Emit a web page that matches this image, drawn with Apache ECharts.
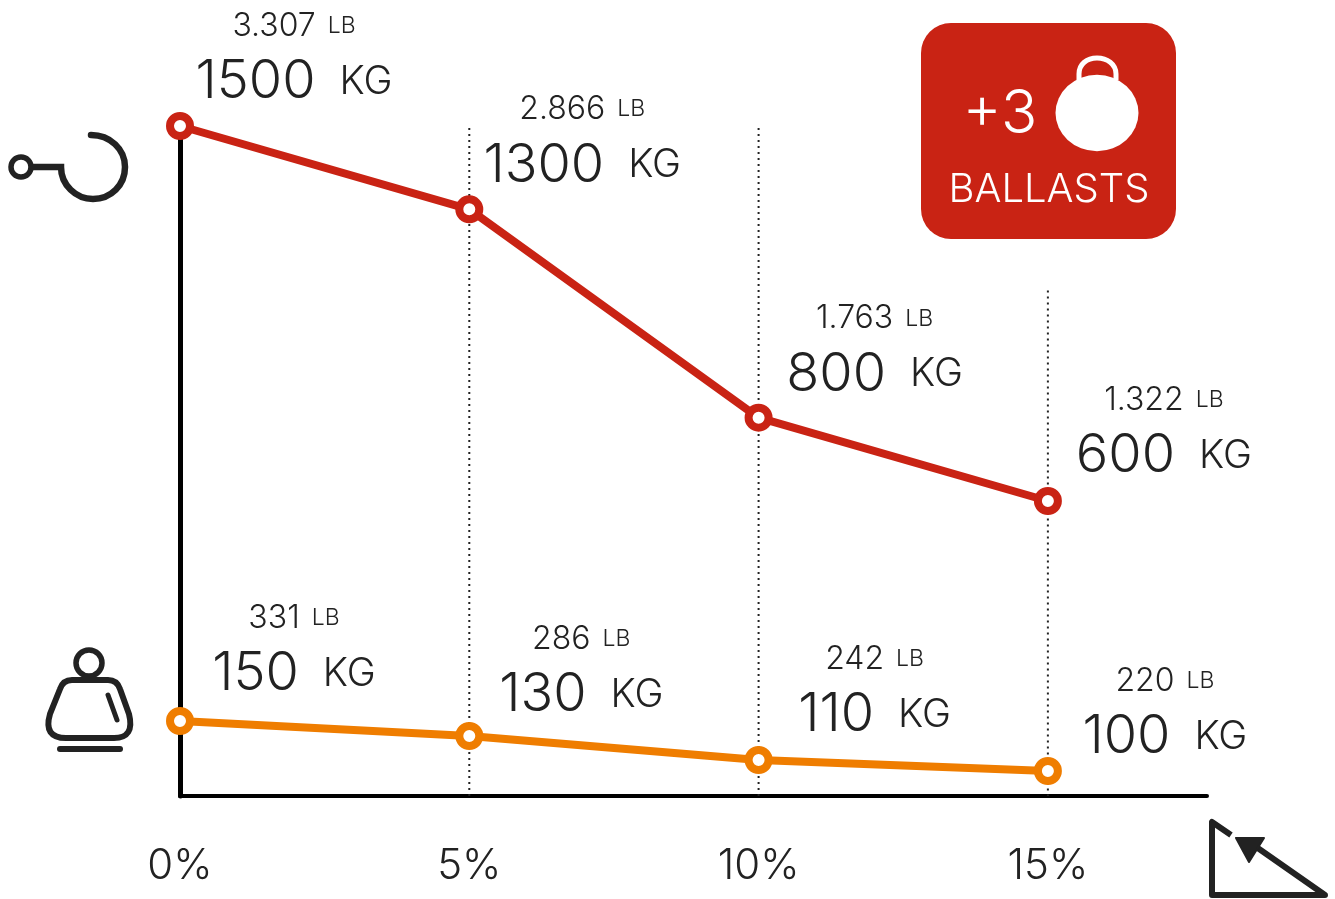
<!DOCTYPE html>
<html><head><meta charset="utf-8">
<style>html,body{margin:0;padding:0;background:#fff}#c{width:1335px;height:899px}</style>
<script src="https://cdn.jsdelivr.net/npm/echarts@6/dist/echarts.min.js"></script>
</head><body><div id="c"></div>
<script>
const grades = [0, 5, 10, 15];
const hookKg = [1500, 1300, 800, 600];
const hookLb = ['3.307', '2.866', '1.763', '1.322'];
const seatKgText = ['150', '130', '110', '100'];
const seatLb = ['331', '286', '242', '220'];
// heights of the orange line (kg on its own axis)
const seatHeight = [150, 135, 111, 100];
const dropTop = [null, 1495, 1495, 1105];
const gradeTicks = ['0%', '5%', '10%', '15%'];

const ink = '#222222', red = '#c92314', orange = '#ef7d00';
const FONT = 'Inter';
const hookShift = [[114, -2], [113, -2], [116, -1], [116, -3]];
const seatShift = [[114, -5], [112, 1], [116, -3], [117, 8]];

const rich = {
  lb: {fontFamily: FONT, fontWeight: 300, fontSize: 32, color: ink, lineHeight: 56},
  lu: {fontFamily: FONT, fontWeight: 300, fontSize: 23, color: ink, padding: [0, 0, 0, 12], lineHeight: 56},
  kg: {fontFamily: FONT, fontWeight: 300, fontSize: 54, color: ink, lineHeight: 56},
  ku: {fontFamily: FONT, fontWeight: 300, fontSize: 39, color: ink, padding: [0, 0, 0, 24], lineHeight: 56}
};
const lab = (lb, kg, shift) => ({
  show: true, position: 'top', distance: 0, offset: shift,
  formatter: `{lb|${lb}}{lu|LB}\n{kg|${kg}}{ku|KG}`, rich, align: 'center'
});
const ringSeries = (data, color, yAxisIndex) => ({
  type: 'line', data, yAxisIndex, clip: false, z: 5, symbol: 'circle', symbolSize: 20, showSymbol: true,
  lineStyle: {color, width: 8}, itemStyle: {color: '#fff', borderColor: color, borderWidth: 8}
});
const drops = grades.map((g, i) => dropTop[i] == null ? null : ({
  type: 'line', silent: true, symbol: 'none', z: 1, clip: false,
  data: [[g, dropTop[i]], [g, -108]],
  lineStyle: {color: ink, width: 2, type: [2, 4]}
})).filter(Boolean);

const icon = (name, d) => echarts.graphic.registerShape(name, echarts.graphic.extendPath(d, {}));
icon('hookPath', 'M32 167 H61 C61 185 76 199 93 199 C111 199 125 185 125 167 C125 149 110 135 91 135');
icon('bodyPath', 'M72 680 H108 Q117 680 120 689 L129 714 Q135 738 114 738 H66 Q43 738 50 714 L60 689 Q63 680 72 680 Z');
icon('handlePath', 'M1079 80 V74 C1079 64 1087 58 1097 58 C1107 58 1116 64 1116 74 V80');
icon('slopePath', 'M1231 835 L1212 822 V895 H1325 L1252 844');

const chart = echarts.init(document.getElementById('c'), null, {renderer: 'canvas'});
chart.setOption({
  animation: false, backgroundColor: '#fff',
  grid: {left: 180, top: 126, width: 1027, height: 670},
  xAxis: {
    type: 'value', min: 0, max: 17.75, interval: 5, splitLine: {show: false},
    axisLine: {show: true, onZero: false, lineStyle: {color: '#000', width: 4}},
    axisTick: {show: false},
    axisLabel: {
      showMaxLabel: false, margin: 49, fontFamily: FONT, fontWeight: 300, fontSize: 42, color: ink,
      formatter: v => gradeTicks[grades.indexOf(v)] || ''
    }
  },
  yAxis: [
    {type: 'value', min: -108, max: 1500, show: true, axisLine: {show: true, onZero: false, lineStyle: {color: '#000', width: 5}},
     axisTick: {show: false}, axisLabel: {show: false}, splitLine: {show: false}},
    {type: 'value', min: 75, max: 745, show: false}
  ],
  series: [
    ...drops,
    ringSeries(grades.map((g, i) => ({value: [g, hookKg[i]], label: lab(hookLb[i], hookKg[i], hookShift[i])})), red, 0),
    ringSeries(grades.map((g, i) => ({value: [g, seatHeight[i]], label: lab(seatLb[i], seatKgText[i], seatShift[i])})), orange, 1)
  ],
  graphic: [
    // hook icon
    {type: 'circle', shape: {cx: 21, cy: 167, r: 10}, style: {fill: 'none', stroke: ink, lineWidth: 5.5}},
    {type: 'hookPath', style: {fill: 'none', stroke: ink, lineWidth: 6.5, lineCap: 'round'}},
    // seated weight icon
    {type: 'circle', shape: {cx: 89, cy: 663, r: 13}, style: {fill: 'none', stroke: ink, lineWidth: 5.5}},
    {type: 'bodyPath', style: {fill: 'none', stroke: ink, lineWidth: 6}},
    {type: 'line', shape: {x1: 108, y1: 695, x2: 117, y2: 720}, style: {stroke: ink, lineWidth: 5, lineCap: 'round'}},
    {type: 'line', shape: {x1: 60, y1: 749, x2: 120, y2: 749}, style: {stroke: ink, lineWidth: 6, lineCap: 'round'}},
    // badge
    {type: 'rect', shape: {x: 921, y: 23, width: 255, height: 216, r: 30}, style: {fill: red}},
    {type: 'circle', x: 1097, y: 113, scaleY: 0.92, shape: {cx: 0, cy: 0, r: 41.5}, style: {fill: '#fff'}},
    {type: 'handlePath', style: {fill: 'none', stroke: '#fff', lineWidth: 5}},
    {type: 'text', style: {x: 1000, y: 115, text: '+3', fill: '#fff', font: '300 60px Inter', align: 'center', verticalAlign: 'middle'}},
    {type: 'text', style: {x: 1049, y: 190, text: 'BALLASTS', fill: '#fff', font: '300 40px Inter', align: 'center', verticalAlign: 'middle'}},
    // slope icon
    {type: 'slopePath', style: {fill: 'none', stroke: ink, lineWidth: 6, lineJoin: 'round'}},
    {type: 'polygon', shape: {points: [[1236, 838], [1264, 838], [1249, 862]]}, style: {fill: ink, stroke: ink, lineWidth: 2, lineJoin: 'round'}}
  ]
});
</script></body></html>
